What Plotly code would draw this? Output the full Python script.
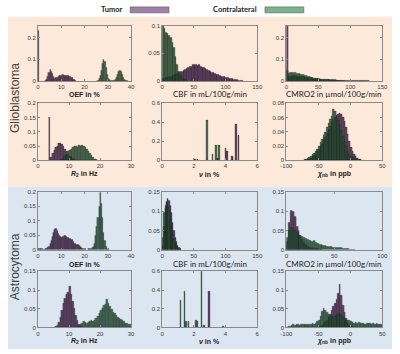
import plotly.graph_objects as go

# ---------------- data (histogram bins: start, bin width, relative frequency) ----------------
GBM_OEF_TUMOR = dict(start=0.0, width=0.5, values=[0.23, 0, 0, 0, 0, 0, 0.003, 0.008, 0.02, 0.038, 0.052, 0.046, 0.035, 0.02, 0.012, 0.014, 0.018, 0.022, 0.024, 0.026, 0.027, 0.028, 0.027, 0.026, 0.026, 0.025, 0.024, 0.022, 0.018, 0.014, 0.009, 0.005, 0.002])
GBM_OEF_CONTRA = dict(start=25.5, width=0.5, values=[0.003, 0.01, 0.025, 0.05, 0.08, 0.1, 0.09, 0.06, 0.03, 0.012, 0.005, 0.002, 0.001, 0.001, 0.002, 0.006, 0.015, 0.03, 0.045, 0.05, 0.042, 0.03, 0.018, 0.008, 0.003, 0.001])

GBM_CBF_TUMOR = dict(start=0.0, width=2.5, values=[0.004, 0.005, 0.006, 0.007, 0.008, 0.009, 0.01, 0.011, 0.012, 0.013, 0.015, 0.017, 0.018, 0.019, 0.021, 0.022, 0.024, 0.026, 0.027, 0.029, 0.03, 0.029, 0.028, 0.03, 0.027, 0.025, 0.024, 0.022, 0.02, 0.019, 0.018, 0.016, 0.015, 0.014, 0.012, 0.011, 0.01, 0.009, 0.009, 0.008, 0.007, 0.006, 0.005, 0.004, 0.004, 0.003, 0.002, 0.002, 0.001, 0.001, 0.0005])
GBM_CBF_CONTRA = dict(start=0.0, width=2.5, values=[0.1, 0.095, 0.088, 0.085, 0.082, 0.078, 0.07, 0.06, 0.045, 0.03, 0.018, 0.01, 0.006, 0.003, 0.002, 0.001])

GBM_CMRO2_TUMOR = dict(start=0.0, width=2.5, values=[0.255, 0.02, 0.022, 0.023, 0.024, 0.024, 0.023, 0.022, 0.021, 0.02, 0.019, 0.018, 0.017, 0.016, 0.015, 0.014, 0.013, 0.012, 0.011, 0.01, 0.009, 0.009, 0.008, 0.008, 0.007, 0.007, 0.006, 0.006, 0.005, 0.005, 0.005, 0.004, 0.004, 0.004, 0.003, 0.003, 0.003, 0.003, 0.002, 0.002, 0.002, 0.002, 0.002, 0.001, 0.001, 0.001, 0.001, 0.001, 0.001, 0.001, 0.0005, 0.0005])
GBM_CMRO2_CONTRA = dict(start=0.0, width=2.5, values=[0.05, 0.035, 0.038, 0.04, 0.038, 0.037, 0.036, 0.035, 0.033, 0.03, 0.028, 0.026, 0.024, 0.021, 0.019, 0.017, 0.015, 0.013, 0.012, 0.011, 0.01, 0.009, 0.008, 0.007, 0.006, 0.006, 0.005, 0.004, 0.004, 0.003, 0.003, 0.002, 0.002, 0.002, 0.001, 0.001])

GBM_R2_TUMOR = dict(start=3.5, width=0.5, values=[0.15, 0.012, 0.025, 0.035, 0.045, 0.05, 0.058, 0.06, 0.055, 0.048, 0.04, 0.03, 0.022, 0.015, 0.01, 0.006, 0.003, 0.001])
GBM_R2_CONTRA = dict(start=7.5, width=0.5, values=[0.003, 0.008, 0.015, 0.022, 0.03, 0.035, 0.04, 0.044, 0.048, 0.05, 0.046, 0.052, 0.048, 0.054, 0.05, 0.045, 0.04, 0.033, 0.025, 0.017, 0.01, 0.005, 0.002])

GBM_NU_TUMOR_X = [3.5, 4.0, 4.12, 4.45, 4.67, 4.83]
GBM_NU_TUMOR_Y = [0.02, 0.128, 0.1, 0.03, 0.38, 0.26]
GBM_NU_CONTRA_X = [2.1, 2.23, 2.84, 3.2, 3.41, 3.61, 4.42]
GBM_NU_CONTRA_Y = [0.01, 0.01, 0.42, 0.0625, 0.155, 0.155, 0.04]

GBM_CHI_TUMOR = dict(start=-67.5, width=2.5, values=[0.001, 0.002, 0.003, 0.005, 0.007, 0.009, 0.012, 0.015, 0.019, 0.023, 0.028, 0.033, 0.038, 0.043, 0.048, 0.053, 0.057, 0.06, 0.062, 0.064, 0.066, 0.064, 0.06, 0.055, 0.046, 0.036, 0.026, 0.018, 0.012, 0.008, 0.005, 0.003, 0.002, 0.001])
GBM_CHI_CONTRA = dict(start=-72.5, width=2.5, values=[0.001, 0.002, 0.003, 0.004, 0.006, 0.008, 0.01, 0.013, 0.016, 0.02, 0.025, 0.03, 0.035, 0.04, 0.046, 0.052, 0.058, 0.062, 0.071, 0.069, 0.063, 0.056, 0.05, 0.042, 0.034, 0.026, 0.019, 0.013, 0.009, 0.006, 0.004, 0.003, 0.002, 0.001])

AST_OEF_TUMOR = dict(start=0.0, width=0.5, values=[0.005, 0.005, 0.003, 0.002, 0.001, 0.001, 0.002, 0.003, 0.006, 0.012, 0.02, 0.032, 0.045, 0.06, 0.068, 0.072, 0.065, 0.055, 0.048, 0.045, 0.042, 0.046, 0.048, 0.05, 0.045, 0.04, 0.042, 0.038, 0.036, 0.033, 0.028, 0.022, 0.02, 0.018, 0.017, 0.014, 0.01, 0.007, 0.005, 0.003, 0.002])
AST_OEF_CONTRA = dict(start=21.5, width=0.5, values=[0.002, 0.003, 0.004, 0.006, 0.01, 0.02, 0.05, 0.08, 0.11, 0.15, 0.195, 0.16, 0.11, 0.06, 0.03, 0.012, 0.005, 0.002])

AST_CBF_TUMOR = dict(start=0.0, width=2.0, values=[0.01, 0.06, 0.105, 0.125, 0.133, 0.128, 0.115, 0.095, 0.07, 0.05, 0.032, 0.02, 0.01, 0.005, 0.002])
AST_CBF_CONTRA = dict(start=0.0, width=2.0, values=[0.03, 0.095, 0.115, 0.12, 0.115, 0.1, 0.08, 0.06, 0.04, 0.025, 0.015, 0.009, 0.005, 0.003, 0.001])

AST_CMRO2_TUMOR = dict(start=0.0, width=2.0, values=[0.02, 0.07, 0.1, 0.097, 0.085, 0.06, 0.05, 0.035, 0.025, 0.018, 0.012, 0.008, 0.006, 0.004, 0.003, 0.002, 0.002, 0.001, 0.001])
AST_CMRO2_CONTRA = dict(start=0.0, width=2.0, values=[0.03, 0.05, 0.056, 0.055, 0.05, 0.045, 0.04, 0.036, 0.033, 0.03, 0.028, 0.025, 0.022, 0.02, 0.024, 0.018, 0.016, 0.014, 0.012, 0.011, 0.01, 0.009, 0.008, 0.007, 0.006, 0.005, 0.005, 0.004, 0.004, 0.003, 0.003, 0.002, 0.002, 0.001, 0.001, 0.001])

AST_R2_TUMOR = dict(start=5.5, width=0.5, values=[0.002, 0.006, 0.014, 0.028, 0.045, 0.065, 0.078, 0.088, 0.095, 0.11, 0.088, 0.07, 0.05, 0.032, 0.018, 0.009, 0.004, 0.002])
AST_R2_CONTRA = dict(start=13.0, width=0.5, values=[0.004, 0.008, 0.012, 0.015, 0.013, 0.012, 0.014, 0.016, 0.018, 0.017, 0.02, 0.025, 0.03, 0.038, 0.045, 0.05, 0.058, 0.062, 0.075, 0.065, 0.055, 0.048, 0.04, 0.037, 0.033, 0.028, 0.024, 0.021, 0.018, 0.015, 0.012, 0.01, 0.009, 0.008])

AST_NU_TUMOR_X = [2.65, 2.98, 3.85]
AST_NU_TUMOR_Y = [0.02, 0.385, 0.006]
AST_NU_CONTRA_X = [1.17, 1.41, 1.53, 1.67, 2.15, 2.25, 2.5]
AST_NU_CONTRA_Y = [0.29, 0.39, 0.06, 0.065, 0.075, 0.06, 0.65]

AST_CHI_TUMOR = dict(start=-50.0, width=2.5, values=[0.002, 0.004, 0.006, 0.01, 0.015, 0.02, 0.028, 0.035, 0.045, 0.055, 0.065, 0.075, 0.09, 0.115, 0.085, 0.06, 0.04, 0.025, 0.012, 0.006, 0.003, 0.001])
AST_CHI_CONTRA = dict(start=-100.0, width=2.5, values=[0.001, 0.002, 0.004, 0.005, 0.007, 0.006, 0.008, 0.007, 0.006, 0.008, 0.007, 0.009, 0.008, 0.007, 0.009, 0.008, 0.01, 0.009, 0.012, 0.015, 0.02, 0.03, 0.042, 0.05, 0.045, 0.04, 0.035, 0.032, 0.03, 0.028, 0.03, 0.033, 0.035, 0.038, 0.032, 0.028, 0.022, 0.02, 0.018, 0.02, 0.016, 0.014, 0.012, 0.014, 0.011, 0.013, 0.01, 0.012, 0.011, 0.009, 0.012, 0.01, 0.011, 0.009, 0.01, 0.008, 0.01, 0.009, 0.008, 0.007])

GROUPS = ["Glioblastoma", "Astrocytoma"]
SERIES = ["Tumor", "Contralateral"]

# ---------------- layout helpers ----------------
W, H = 400, 354
COLS = [(33, 129), (161, 259), (289, 388)]
ROWS = [(23, 79.5), (102, 160), (192, 251), (273, 330)]
TITLE_Y = [93, 174, 266, 344]

TUMOR_FILL = "rgba(74,38,82,0.86)"
CONTRA_FILL = "rgba(36,80,50,0.82)"
EDGE = "rgba(15,15,15,0.6)"
LEG_TUMOR = "#9f7fa6"
LEG_CONTRA = "#7ab38b"

SANS = "Liberation Sans, Arial, sans-serif"
HUM = "Lato, Open Sans, sans-serif"

R2_T = "<b><i>R</i><sub>2</sub> in Hz</b>"
NU_T = "<b><i>ν</i> in %</b>"
CHI_T = "<b><i>χ</i><sub>nb</sub> in ppb</b>"
OEF_T = "<b>OEF in %</b>"

panels = [
    (0, 0, GBM_OEF_TUMOR, GBM_OEF_CONTRA, [0, 40], [0, 10, 20, 30, 40], [0, 0.255], [0, 0.1, 0.2], OEF_T, SANS),
    (0, 1, GBM_CBF_TUMOR, GBM_CBF_CONTRA, [0, 150], [0, 50, 100, 150], [0, 0.1], [0, 0.05, 0.1], "CBF in mL/100g/min", HUM),
    (0, 2, GBM_CMRO2_TUMOR, GBM_CMRO2_CONTRA, [0, 150], [0, 50, 100, 150], [0, 0.255], [0, 0.1, 0.2], "CMRO2 in µmol/100g/min", HUM),
    (1, 0, GBM_R2_TUMOR, GBM_R2_CONTRA, [0, 30], [0, 10, 20, 30], [0, 0.2], [0, 0.05, 0.1, 0.15, 0.2], R2_T, SANS),
    (1, 1, (GBM_NU_TUMOR_X, GBM_NU_TUMOR_Y), (GBM_NU_CONTRA_X, GBM_NU_CONTRA_Y), [0, 6], [0, 2, 4, 6], [0, 0.6], [0, 0.2, 0.4, 0.6], NU_T, SANS),
    (1, 2, GBM_CHI_TUMOR, GBM_CHI_CONTRA, [-100, 50], [-100, -50, 0, 50], [0, 0.08], [0, 0.02, 0.04, 0.06, 0.08], CHI_T, SANS),
    (2, 0, AST_OEF_TUMOR, AST_OEF_CONTRA, [0, 40], [0, 10, 20, 30, 40], [0, 0.2], [0, 0.05, 0.1, 0.15, 0.2], OEF_T, SANS),
    (2, 1, AST_CBF_TUMOR, AST_CBF_CONTRA, [0, 150], [0, 50, 100, 150], [0, 0.15], [0, 0.05, 0.1, 0.15], "CBF in mL/100g/min", HUM),
    (2, 2, AST_CMRO2_TUMOR, AST_CMRO2_CONTRA, [0, 100], [0, 50, 100], [0, 0.15], [0, 0.05, 0.1, 0.15], "CMRO2 in µmol/100g/min", HUM),
    (3, 0, AST_R2_TUMOR, AST_R2_CONTRA, [0, 30], [0, 10, 20, 30], [0, 0.15], [0, 0.05, 0.1, 0.15], R2_T, SANS),
    (3, 1, (AST_NU_TUMOR_X, AST_NU_TUMOR_Y), (AST_NU_CONTRA_X, AST_NU_CONTRA_Y), [0, 6], [0, 2, 4, 6], [0, 0.6], [0, 0.2, 0.4, 0.6], NU_T, SANS),
    (3, 2, AST_CHI_TUMOR, AST_CHI_CONTRA, [-100, 50], [-100, -50, 0, 50], [0, 0.15], [0, 0.05, 0.1, 0.15], CHI_T, SANS),
]


def fmt(v):
    return ("%g" % v)


fig = go.Figure()
layout = {}
annotations = []

for i, (r, c, tum, con, xr, xt, yr, yt, title, tfont) in enumerate(panels):
    n = i + 1
    xa = "x" if n == 1 else f"x{n}"
    ya = "y" if n == 1 else f"y{n}"
    for series, fill in ((tum, TUMOR_FILL), (con, CONTRA_FILL)):
        if isinstance(series, dict):
            w = series["width"]
            xs = [series["start"] + w * (k + 0.5) for k in range(len(series["values"]))]
            ys = series["values"]
        else:
            w = 0.1
            xs, ys = series
        fig.add_trace(go.Bar(x=xs, y=ys, width=w, xaxis=xa, yaxis=ya,
                             marker=dict(color=fill, line=dict(color=EDGE, width=0.4)),
                             showlegend=False, hoverinfo="skip"))
    x0, x1 = COLS[c]
    t, b = ROWS[r]
    common = dict(showline=True, mirror="ticks", linecolor="#8a8a8a", linewidth=1,
                  ticks="inside", ticklen=2, tickcolor="#8a8a8a", showgrid=False,
                  zeroline=False, tickfont=dict(family=SANS, size=6, color="#3a3a3a"),
                  fixedrange=True)
    layout[("xaxis" if n == 1 else f"xaxis{n}")] = dict(
        common, domain=[x0 / W, x1 / W], range=xr, tickvals=xt,
        ticktext=[fmt(v) for v in xt], anchor=ya)
    layout[("yaxis" if n == 1 else f"yaxis{n}")] = dict(
        common, domain=[1 - b / H, 1 - t / H], range=yr, tickvals=yt,
        ticktext=[fmt(v) for v in yt], anchor=xa)
    annotations.append(dict(text=title, x=(x0 + x1) / 2 / W, y=1 - TITLE_Y[r] / H,
                            xref="paper", yref="paper", xanchor="center", yanchor="middle",
                            showarrow=False,
                            font=dict(family=tfont, size=8 if tfont == HUM else 7, color="#222")))

shapes = [
    dict(type="rect", xref="paper", yref="paper", x0=2 / W, x1=398 / W, y0=1 - 187 / H, y1=1 - 14 / H,
         fillcolor="#fde9d9", line=dict(width=0), layer="below"),
    dict(type="rect", xref="paper", yref="paper", x0=2 / W, x1=398 / W, y0=1 - 352 / H, y1=1 - 187 / H,
         fillcolor="#dce6f1", line=dict(width=0), layer="below"),
    dict(type="rect", xref="paper", yref="paper", x0=128 / W, x1=168 / W, y0=1 - 10 / H, y1=1 - 4 / H,
         fillcolor=LEG_TUMOR, line=dict(color="#666", width=0.7)),
    dict(type="rect", xref="paper", yref="paper", x0=267 / W, x1=307 / W, y0=1 - 10 / H, y1=1 - 4 / H,
         fillcolor=LEG_CONTRA, line=dict(color="#666", width=0.7)),
]

annotations += [
    dict(text="<b>" + SERIES[0] + "</b>", x=123 / W, y=1 - 7 / H, xref="paper", yref="paper",
         xanchor="right", yanchor="middle", showarrow=False, font=dict(family=HUM, size=7.5, color="#222")),
    dict(text="<b>" + SERIES[1] + "</b>", x=261 / W, y=1 - 7 / H, xref="paper", yref="paper",
         xanchor="right", yanchor="middle", showarrow=False, font=dict(family=HUM, size=7.5, color="#222")),
    dict(text=GROUPS[0], x=10 / W, y=1 - 97 / H, xref="paper", yref="paper", textangle=-90,
         xanchor="center", yanchor="middle", showarrow=False, font=dict(family=SANS, size=12, color="#404040")),
    dict(text=GROUPS[1], x=10 / W, y=1 - 268 / H, xref="paper", yref="paper", textangle=-90,
         xanchor="center", yanchor="middle", showarrow=False, font=dict(family=SANS, size=12, color="#404040")),
]

fig.update_layout(width=W, height=H, margin=dict(l=0, r=0, t=0, b=0),
                  paper_bgcolor="white", plot_bgcolor="white",
                  barmode="overlay", bargap=0, shapes=shapes, annotations=annotations,
                  **layout)

fig.write_html("out.html", config={"displayModeBar": False},
               post_script="document.body.style.margin='0px';document.body.style.padding='0px';")
